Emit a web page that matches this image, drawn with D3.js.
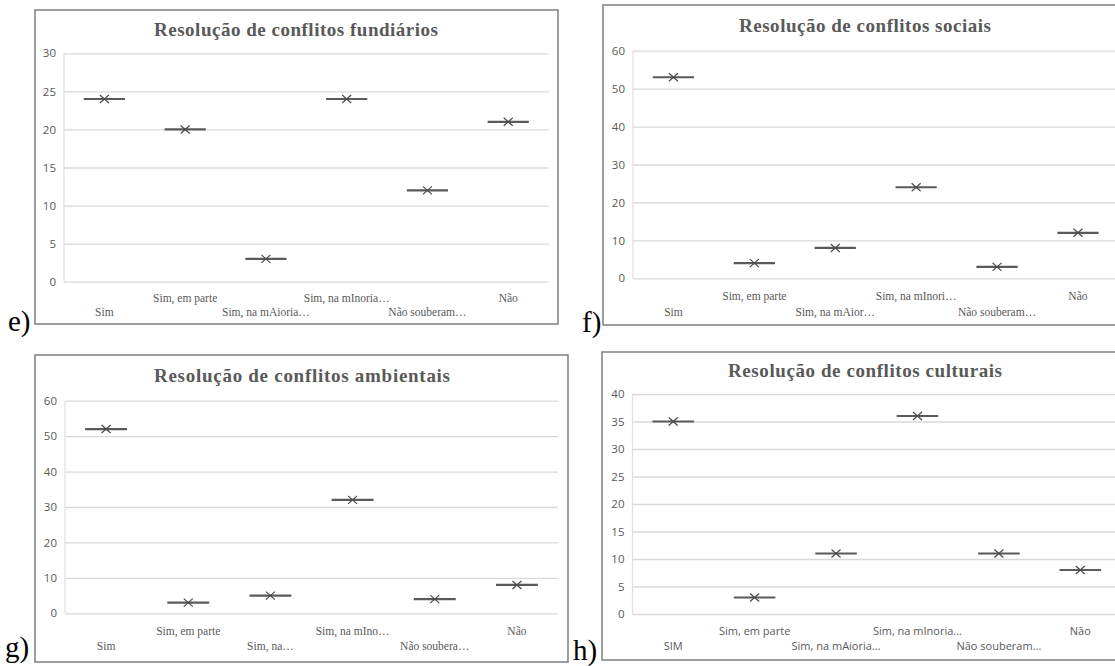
<!DOCTYPE html>
<html>
<head>
<meta charset="utf-8">
<script src="https://cdn.jsdelivr.net/npm/d3@7"></script>
<style>
  html, body { margin: 0; padding: 0; background: #fff; }
  svg { display: block; }
</style>
</head>
<body>
<svg id="chart" width="1115" height="666"></svg>
<script>
// ---------- data ----------
const titleE = "Resolução de conflitos fundiários";
const titleF = "Resolução de conflitos sociais";
const titleG = "Resolução de conflitos ambientais";
const titleH = "Resolução de conflitos culturais";

const categoriesE = ["Sim", "Sim, em parte", "Sim, na mAioria…", "Sim, na mInoria…", "Não souberam…", "Não"];
const categoriesF = ["Sim", "Sim, em parte", "Sim, na mAior…", "Sim, na mInori…", "Não souberam…", "Não"];
const categoriesG = ["Sim", "Sim, em parte", "Sim, na…", "Sim, na mIno…", "Não soubera…", "Não"];
const categoriesH = ["SIM", "Sim, em parte", "Sim, na mAioria...", "Sim, na mInoria...", "Não souberam...", "Não"];

const valuesE = [24, 20, 3, 24, 12, 21];
const valuesF = [53, 4, 8, 24, 3, 12];
const valuesG = [52, 3, 5, 32, 4, 8];
const valuesH = [35, 3, 11, 36, 11, 8];

const ticksE = [0, 5, 10, 15, 20, 25, 30];
const ticksF = [0, 10, 20, 30, 40, 50, 60];
const ticksG = [0, 10, 20, 30, 40, 50, 60];
const ticksH = [0, 5, 10, 15, 20, 25, 30, 35, 40];

const panelLetters = ["e)", "f)", "g)", "h)"];

// ---------- layout ----------
const svg = d3.select("#chart");
const textGray = "#595959";

const panels = [
  { title: titleE, cats: categoriesE, vals: valuesE, ticks: ticksE, letter: panelLetters[0],
    frame: [35, 10, 558, 324], plot: [64, 53.3, 548.6, 281.7], titleX: 296, titleY: 36, titleW: 284,
    row1: 16.5, row2: 30.5, serif: true, letterX: 8, letterY: 331 },
  { title: titleF, cats: categoriesF, vals: valuesF, ticks: ticksF, letter: panelLetters[1],
    frame: [603, 5, 1140, 325], plot: [633, 50.7, 1118.4, 278.3], titleX: 865, titleY: 32, titleW: 252,
    row1: 17.7, row2: 33.5, serif: true, letterX: 582, letterY: 332 },
  { title: titleG, cats: categoriesG, vals: valuesG, ticks: ticksG, letter: panelLetters[2],
    frame: [35, 355, 568, 662], plot: [65, 400.7, 558, 613.3], titleX: 302, titleY: 382, titleW: 296,
    row1: 17.7, row2: 32.7, serif: true, letterX: 5, letterY: 657 },
  { title: titleH, cats: categoriesH, vals: valuesH, ticks: ticksH, letter: panelLetters[3],
    frame: [602, 352, 1140, 660], plot: [632.5, 394, 1121, 614], titleX: 865, titleY: 377, titleW: 274,
    row1: 17, row2: 32, serif: false, letterX: 573, letterY: 660 }
];

panels.forEach(p => {
  const g = svg.append("g");
  const [fx0, fy0, fx1, fy1] = p.frame;
  const [px0, py0, px1, py1] = p.plot;

  // frame
  g.append("rect")
    .attr("x", fx0).attr("y", fy0)
    .attr("width", fx1 - fx0).attr("height", fy1 - fy0)
    .attr("fill", "#fff").attr("stroke", "#858585").attr("stroke-width", 1.6);

  // scales
  const y = d3.scaleLinear()
    .domain([0, d3.max(p.ticks)])
    .range([py1, py0]);
  const x = d3.scaleBand()
    .domain(p.cats)
    .range([px0, px1]);

  // left plot border
  g.append("line")
    .attr("x1", px0).attr("x2", px0)
    .attr("y1", py0).attr("y2", py1)
    .attr("stroke", "#e0e0e0").attr("stroke-width", 1.2);

  // y axis with gridlines
  const yAxis = g.append("g")
    .attr("transform", `translate(${px0},0)`)
    .call(d3.axisLeft(y).tickValues(p.ticks).tickSize(-(px1 - px0)).tickPadding(8));
  yAxis.select(".domain").remove();
  yAxis.selectAll(".tick line").attr("stroke", "#d9d9d9").attr("stroke-width", 1.3);
  yAxis.selectAll(".tick text")
    .attr("fill", textGray)
    .style("font-family", "'Open Sans', 'Liberation Sans', sans-serif")
    .style("font-size", "11.5px");

  // x axis labels (two staggered rows)
  const xAxis = g.append("g")
    .attr("transform", `translate(0,${py1})`)
    .call(d3.axisBottom(x).tickSize(0).tickPadding(0));
  xAxis.select(".domain").remove();
  xAxis.selectAll(".tick text")
    .attr("fill", textGray)
    .attr("y", (d, i) => (i % 2 === 1 ? p.row1 : p.row2))
    .attr("dy", "0.35em")
    .style("font-family", p.serif ? "'Liberation Serif', 'Times New Roman', serif" : "'Open Sans', 'Liberation Sans', sans-serif")
    .style("font-size", p.serif ? "11.5px" : "11px");

  // markers: horizontal dash + x cross
  const bw = x.bandwidth();
  const marks = g.append("g").selectAll("g")
    .data(p.vals.map((v, i) => ({ c: p.cats[i], v })))
    .join("g")
    .attr("transform", d => `translate(${x(d.c) + bw / 2},${y(d.v)})`);
  marks.append("line")
    .attr("x1", -bw * 0.255).attr("x2", bw * 0.255)
    .attr("y1", 0).attr("y2", 0)
    .attr("stroke", "#5a5a5a").attr("stroke-width", 2.2);
  marks.append("path")
    .attr("d", "M-4.5,-4 L4.5,4 M-4.5,4 L4.5,-4")
    .attr("stroke", "#4a4a4a").attr("stroke-width", 1.2).attr("fill", "none");

  // title
  g.append("text")
    .attr("x", p.titleX).attr("y", p.titleY)
    .attr("text-anchor", "middle")
    .attr("textLength", p.titleW).attr("lengthAdjust", "spacing")
    .attr("fill", textGray)
    .style("font-family", "'Liberation Serif', 'Times New Roman', serif")
    .style("font-weight", "bold")
    .style("font-size", "19px")
    .text(p.title);

  // panel letter
  svg.append("text")
    .attr("x", p.letterX).attr("y", p.letterY)
    .attr("fill", "#000")
    .style("font-family", "'Liberation Serif', 'Times New Roman', serif")
    .style("font-size", "29px")
    .text(p.letter);
});
</script>
</body>
</html>
